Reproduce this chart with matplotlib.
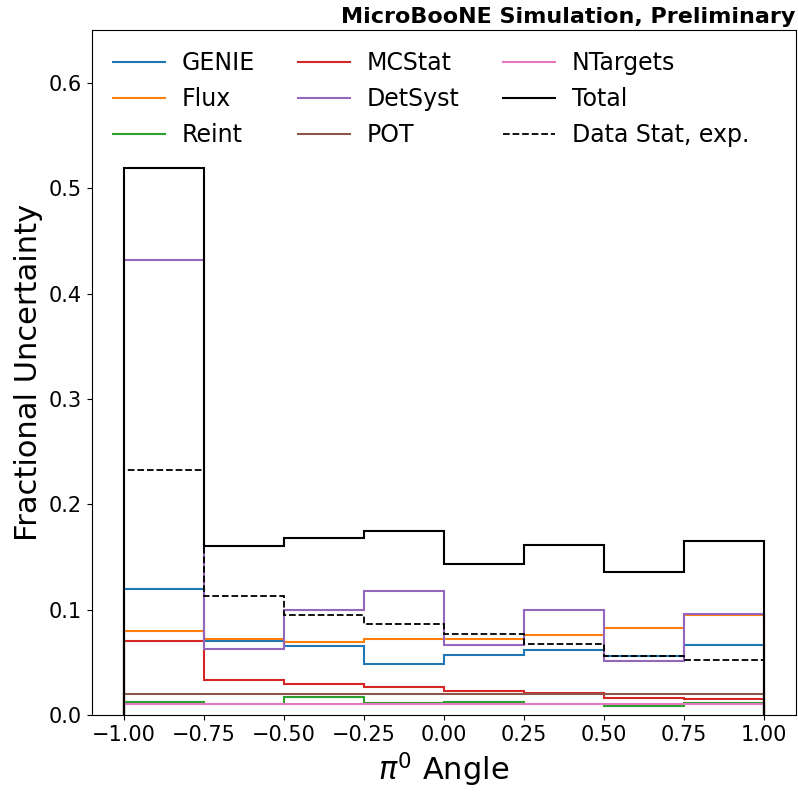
import matplotlib
matplotlib.use("Agg")
import matplotlib.pyplot as plt
from matplotlib.lines import Line2D
import numpy as np

bin_edges = [-1.0, -0.75, -0.5, -0.25, 0.0, 0.25, 0.5, 0.75, 1.0]

genie = [0.120, 0.0705, 0.0654, 0.048, 0.0572, 0.0619, 0.056, 0.0667]
flux = [0.080, 0.0724, 0.069, 0.0724, 0.0717, 0.0758, 0.0822, 0.0948]
reint = [0.012, 0.0107, 0.017, 0.0117, 0.0126, 0.010, 0.0088, 0.0117]
mcstat = [0.0705, 0.0336, 0.029, 0.0262, 0.023, 0.0206, 0.0164, 0.0149]
detsyst = [0.432, 0.063, 0.100, 0.118, 0.066, 0.0995, 0.051, 0.096]
pot = [0.0202, 0.0195, 0.0195, 0.0195, 0.0195, 0.0195, 0.0195, 0.0195]
ntargets = [0.0101, 0.0101, 0.0101, 0.0101, 0.0101, 0.0101, 0.0101, 0.0101]
total = [0.519, 0.160, 0.168, 0.175, 0.143, 0.161, 0.136, 0.165]
data_stat = [0.233, 0.113, 0.095, 0.0866, 0.0765, 0.0676, 0.0562, 0.0524]

names = ["GENIE", "Flux", "Reint", "MCStat", "DetSyst", "POT", "NTargets"]
series = [genie, flux, reint, mcstat, detsyst, pot, ntargets]
colors = ["C0", "C1", "C2", "C3", "C4", "C5", "C6"]

centers = 0.5 * (np.array(bin_edges[1:]) + np.array(bin_edges[:-1]))

fig, ax = plt.subplots(figsize=(7.98, 7.94), dpi=100)

handles = []
for name, vals, c in zip(names, series, colors):
    ax.hist(centers, bins=bin_edges, weights=vals, histtype="step", color=c, linewidth=1.5)
    handles.append(Line2D([], [], color=c, linewidth=1.5, label=name))
ax.hist(centers, bins=bin_edges, weights=total, histtype="step", color="black", linewidth=1.5)
handles.append(Line2D([], [], color="black", linewidth=1.5, label="Total"))
ax.hist(centers, bins=bin_edges, weights=data_stat, histtype="step", color="black", linestyle="--",
        linewidth=1.3)
handles.append(Line2D([], [], color="black", linestyle="--", linewidth=1.3, label="Data Stat, exp."))

ax.set_xlim(-1.1, 1.1)
ax.set_ylim(0, 0.65)
ax.set_xticks([-1.0, -0.75, -0.5, -0.25, 0.0, 0.25, 0.5, 0.75, 1.0])
ax.tick_params(labelsize=15)
ax.set_xlabel(r"$\pi^0$ Angle", fontsize=22)
ax.set_ylabel("Fractional Uncertainty", fontsize=22)
ax.set_title("MicroBooNE Simulation, Preliminary", loc="right", fontsize=16, fontweight="bold", pad=5)
ax.legend(handles=handles, ncol=3, fontsize=17, frameon=False, loc="upper left",
          handlelength=2.2, columnspacing=1.85, handletextpad=0.7)

plt.subplots_adjust(left=0.115, right=0.997, bottom=0.0995, top=0.962)
plt.savefig("out.png", dpi=100)
